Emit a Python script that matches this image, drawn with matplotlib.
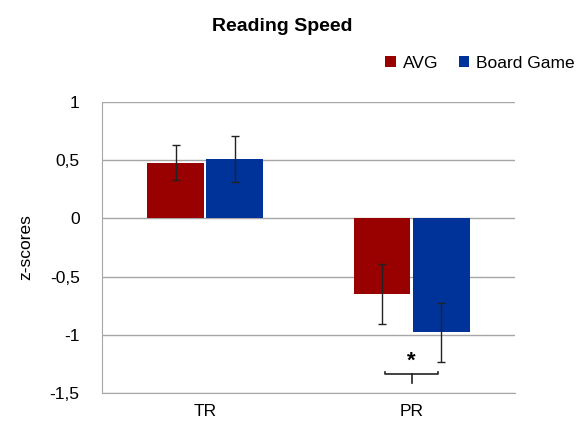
import matplotlib
matplotlib.use("Agg")
import matplotlib.pyplot as plt
import numpy as np

categories = ["TR", "PR"]
series = ["AVG", "Board Game"]
avg_vals = [0.48, -0.65]
avg_err = [0.15, 0.26]
bg_vals = [0.51, -0.98]
bg_err = [0.20, 0.25]
yticks = [1, 0.5, 0, -0.5, -1, -1.5]
ytick_labels = ["1", "0,5", "0", "-0,5", "-1", "-1,5"]
colors = ["#990000", "#003399"]

plt.rcParams['font.family'] = ['Liberation Sans', 'DejaVu Sans']

fig = plt.figure(figsize=(5.79, 4.26), dpi=100)
ax = fig.add_axes([0.176, 0.0775, 0.713, 0.683])

x = np.arange(len(categories))
w = 0.276
gap = 0.005
ax.bar(x - w/2 - gap, avg_vals, w, color=colors[0], label=series[0], zorder=3)
ax.bar(x + w/2 + gap, bg_vals, w, color=colors[1], label=series[1], zorder=3)
ax.errorbar(x - w/2 - gap, avg_vals, yerr=avg_err, fmt='none', ecolor='#222222',
            elinewidth=1, capsize=3, capthick=1, zorder=4)
ax.errorbar(x + w/2 + gap, bg_vals, yerr=bg_err, fmt='none', ecolor='#222222',
            elinewidth=1, capsize=3, capthick=1, zorder=4)

ax.set_xlim(-0.5, 1.5)
ax.set_ylim(-1.5, 1)
ax.set_yticks(yticks)
ax.set_yticklabels(ytick_labels, fontsize=12.5)
ax.set_xticks(x)
ax.set_xticklabels(categories, fontsize=12.5)
ax.tick_params(axis='y', length=0, pad=16)
ax.tick_params(axis='x', length=0, pad=8)
ax.grid(axis='y', color='#a6a6a6', linewidth=1, zorder=0)
for s in ['top', 'right']:
    ax.spines[s].set_visible(False)
ax.spines['left'].set_color('#a6a6a6')
ax.spines['bottom'].set_color('#a6a6a6')
ax.set_ylabel("z-scores", fontsize=12.5, labelpad=12)

# significance bracket
bx0 = x[1] - 0.13
bx1 = x[1] + 0.13
yb = -1.34
ax.plot([bx0, bx0, bx1, bx1], [yb + 0.02, yb, yb, yb + 0.02], color='#222222', lw=1.2, zorder=5)
ax.plot([x[1], x[1]], [yb, yb - 0.07], color='#222222', lw=1.2, zorder=5)
ax.text(x[1], -1.32, "*", ha='center', va='bottom', fontsize=16, fontweight='bold')

fig.text(0.487, 0.937, "Reading Speed", ha='center', va='center', fontsize=14, fontweight='bold')
fig.legend(loc='upper right', bbox_to_anchor=(1.005, 0.885), ncol=2, frameon=False,
           fontsize=12.5, handlelength=0.6, handleheight=0.6, handletextpad=0.4,
           columnspacing=1.2, borderaxespad=0.0)

fig.savefig("out.png", dpi=100)
